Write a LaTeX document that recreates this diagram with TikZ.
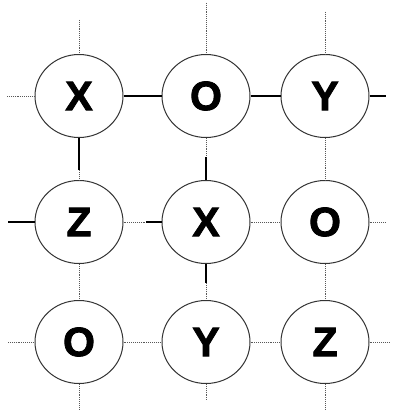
\documentclass[tikz,border=0pt]{standalone}
\usepackage{fontspec}
\setmainfont{Liberation Sans}
\newfontfamily\letterfont[FakeBold=2]{Liberation Sans Bold}
\usetikzlibrary{shapes.geometric}
\begin{document}
\begin{tikzpicture}[x=1pt,y=-1pt,
  cell/.style={ellipse,draw=black!80,line width=1pt,minimum width=88pt,minimum height=83pt,inner sep=0pt,
    font=\fontsize{41}{41}\letterfont},
  bond/.style={line width=1.2pt,black},
  weak/.style={line width=0.9pt,black!65,densely dotted}]
\useasboundingbox (0,0) rectangle (394,414);
% cells on a 3x3 grid
\node[cell] (a1) at (79,96)  {X};
\node[cell] (a2) at (206,96) {O};
\node[cell] (a3) at (325,96) {Y};
\node[cell] (b1) at (79,222)  {Z};
\node[cell] (b2) at (206,222) {X};
\node[cell] (b3) at (325,222) {O};
\node[cell] (c1) at (79,342)  {O};
\node[cell] (c2) at (206,342) {Y};
\node[cell] (c3) at (325,342) {Z};
% free ends of the border stubs
\coordinate (ta1) at (79,20);  \coordinate (ta2) at (206,3);  \coordinate (ta3) at (325,12);
\coordinate (la1) at (7,96);   \coordinate (lb1) at (8,222);  \coordinate (lc1) at (8,342);
\coordinate (ra3) at (386,96); \coordinate (rb3) at (385,222); \coordinate (rc3) at (390,342);
\coordinate (bc1) at (79,410); \coordinate (bc2) at (206,400); \coordinate (bc3) at (325,410);
% split points of mixed edges
\coordinate (m1) at (79,170);
\coordinate (m2) at (206,157);
\coordinate (m3) at (146,222);
\coordinate (m4) at (206,283);
% top row
\draw[bond] (a1) -- (a2);
\draw[bond] (a2) -- (a3);
\draw[weak] (la1) -- (a1);
\draw[bond] (a3) -- (ra3);
\draw[weak] (ta1) -- (a1.north);
\draw[weak] (ta2) -- (a2.north);
\draw[weak] (ta3) -- (a3.north);
% top to middle
\draw[bond] (a1.south) -- (m1);
\draw[weak] (m1) -- (b1.north);
\draw[weak] (a2.south) -- (m2);
\draw[bond] (m2) -- (b2.north);
\draw[weak] (a3.south) -- (b3.north);
% middle row
\draw[bond] (lb1) -- (b1.west);
\draw[weak] (b1.east) -- (m3);
\draw[bond] (m3) -- (b2.west);
\draw[weak] (b2) -- (b3);
\draw[weak] (b3.east) -- (rb3);
% middle to bottom
\draw[weak] (b1.south) -- (c1.north);
\draw[bond] (b2.south) -- (m4);
\draw[weak] (m4) -- (c2.north);
\draw[weak] (b3.south) -- (c3.north);
% bottom row
\draw[weak] (lc1) -- (c1.west);
\draw[weak] (c1) -- (c2);
\draw[weak] (c2) -- (c3);
\draw[weak] (c3.east) -- (rc3);
\draw[weak] (c1.south) -- (bc1);
\draw[weak] (c2.south) -- (bc2);
\draw[weak] (c3.south) -- (bc3);
\end{tikzpicture}
\end{document}
